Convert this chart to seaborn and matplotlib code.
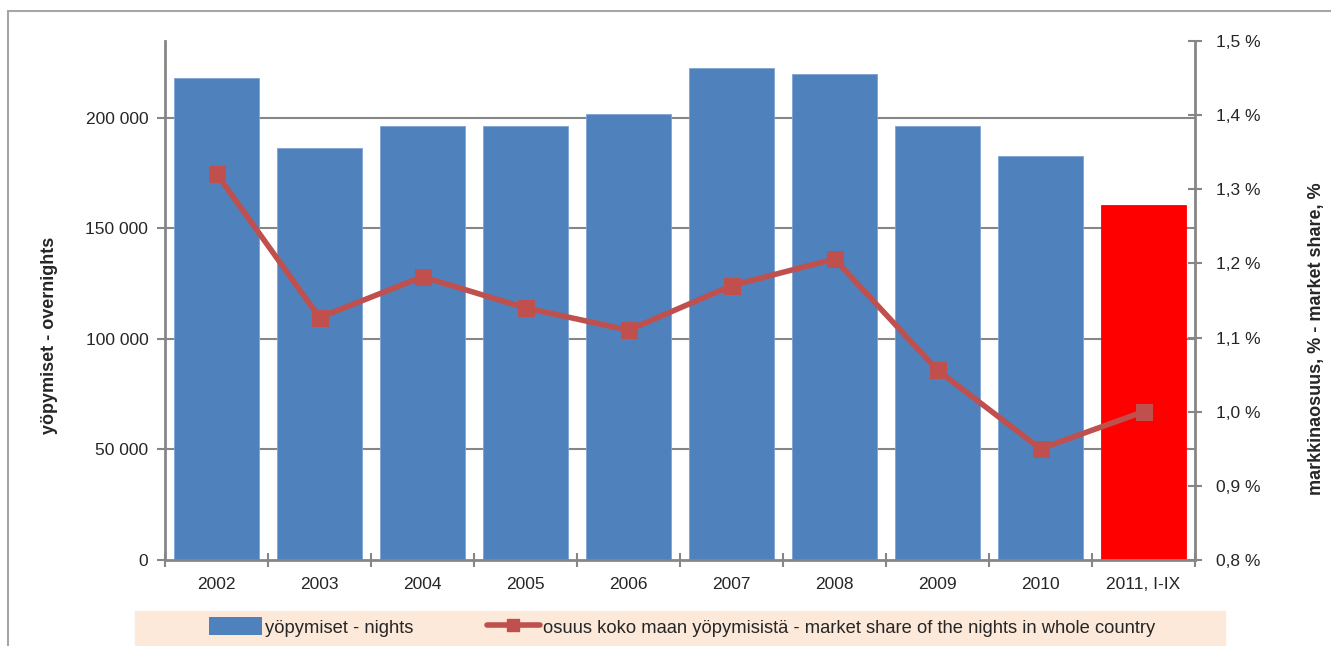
import matplotlib
matplotlib.use("Agg")
import matplotlib.pyplot as plt
from matplotlib.patches import Rectangle, Patch
from matplotlib.lines import Line2D
from matplotlib.ticker import FuncFormatter, FixedLocator
import numpy as np
import seaborn as sns

years = ["2002", "2003", "2004", "2005", "2006", "2007", "2008", "2009", "2010", "2011, I-IX"]
nights = [218000, 186200, 196200, 196200, 201600, 222400, 219700, 196200, 182600, 160500]
share = [1.321, 1.127, 1.182, 1.140, 1.110, 1.170, 1.206, 1.056, 0.950, 1.000]
bar_colors = ["#4F81BD"] * 9 + ["#FF0000"]

sns.set_theme(style="white")
plt.rcParams["font.family"] = ["Liberation Sans", "DejaVu Sans"]

axis_grey = "#868686"
line_red = "#C0504D"
W, H = 1331, 646

fig = plt.figure(figsize=(13.31, 6.46), dpi=100)
ax = fig.add_axes([165 / W, 1 - 560 / H, 1030 / W, 519 / H])

# gridlines behind bars
for v in [50000, 100000, 150000, 200000]:
    ax.axhline(v, color=axis_grey, lw=1.5, zorder=0)

sns.barplot(x=years, y=nights, hue=years, palette=bar_colors, legend=False,
            width=0.83, ax=ax, saturation=1, edgecolor="#7FA3D3", linewidth=0.6, zorder=2)
ax.patches[-1].set_edgecolor("#FF0000")

ax.set_xlim(-0.5, 9.5)
ax.set_ylim(0, 234700)
ax.set_yticks([0, 50000, 100000, 150000, 200000])
ax.yaxis.set_major_formatter(FuncFormatter(lambda v, p: f"{int(v):,}".replace(",", " ")))
ax.set_xlabel("")
ax.set_ylabel("yöpymiset - overnights", fontsize=13, fontweight="bold")
ax.yaxis.set_label_coords((58 - 165) / 1030, (560 - 335) / 519)
ax.tick_params(axis="y", direction="out", length=6, width=1.5, color=axis_grey,
               labelsize=12.5, pad=6, left=True)
ax.tick_params(axis="x", which="major", length=0, labelsize=12.5, pad=12)
ax.xaxis.set_minor_locator(FixedLocator(np.arange(-0.5, 10, 1.0)))
ax.tick_params(axis="x", which="minor", direction="inout", length=10, width=1.5,
               color=axis_grey, bottom=True)
for s in ["top", "right"]:
    ax.spines[s].set_visible(False)
for s in ["left", "bottom"]:
    ax.spines[s].set_color(axis_grey)
    ax.spines[s].set_linewidth(2)

ax2 = ax.twinx()
sns.lineplot(x=np.arange(len(share)), y=share, ax=ax2, color=line_red, lw=4,
             marker="s", markersize=12, markeredgecolor=line_red, zorder=5)
ax2.set_ylim(0.8, 1.5)
ax2.set_yticks(np.arange(0.8, 1.51, 0.1))
ax2.yaxis.set_major_formatter(FuncFormatter(lambda v, p: f"{v:.1f} %".replace(".", ",")))
ax2.set_ylabel("markkinaosuus, % - market share, %", fontsize=13, fontweight="bold",
               rotation=90)
ax2.yaxis.set_label_coords((1308 - 165) / 1030, (560 - 339) / 519)
ax2.tick_params(axis="y", direction="inout", length=10, width=1.5, color=axis_grey,
                labelsize=12.5, pad=10, right=True)
for s in ["top", "left", "bottom"]:
    ax2.spines[s].set_visible(False)
ax2.spines["right"].set_color(axis_grey)
ax2.spines["right"].set_linewidth(2)
ax2.grid(False)
ax.grid(False)

# legend band
fig.patches.append(Rectangle((135 / W, -0.01), 1090 / W, 41 / H,
                             transform=fig.transFigure, color="#FDE9D9", zorder=0))
handles = [Patch(facecolor="#4F81BD", edgecolor="none"),
           Line2D([0], [0], color=line_red, lw=4, marker="s", markersize=9)]
fig.legend(handles, ["yöpymiset - nights",
                     "osuus koko maan yöpymisistä - market share of the nights in whole country"],
           loc="center", bbox_to_anchor=(682 / W, 19 / H), ncol=2, frameon=False,
           fontsize=13.2, handlelength=2.9, handleheight=1.1, columnspacing=4.0,
           handletextpad=0.15)

# outer chart border
fig.patches.append(Rectangle((8 / W, -0.05), 1.2, 1 - 11 / H + 0.05,
                             transform=fig.transFigure, fill=False,
                             edgecolor="#A6A6A6", lw=1.5))

fig.savefig("out.png", dpi=100)
